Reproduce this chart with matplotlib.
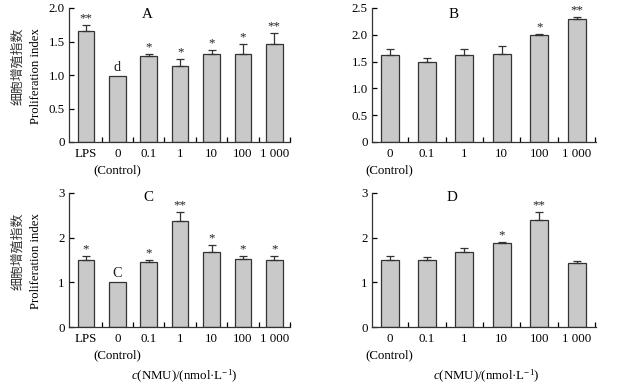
import matplotlib
matplotlib.use("Agg")
import matplotlib.pyplot as plt
import numpy as np

plt.rcParams['font.family'] = ['Liberation Serif', 'Noto Sans CJK SC']
plt.rcParams['mathtext.fontset'] = 'custom'
plt.rcParams['mathtext.rm'] = 'Liberation Serif'
plt.rcParams['mathtext.it'] = 'Liberation Serif:italic'

cats7 = ['LPS', '0', '0.1', '1', '10', '100', '1 000']
cats6 = ['0', '0.1', '1', '10', '100', '1 000']
control_note = '(Control)'

A_vals = [1.65, 0.99, 1.29, 1.14, 1.31, 1.31, 1.47]
A_err = [0.10, 0.0, 0.02, 0.10, 0.07, 0.15, 0.16]
A_sig = ['**', 'd', '*', '*', '*', '*', '**']

B_vals = [1.63, 1.49, 1.63, 1.65, 1.99, 2.29]
B_err = [0.10, 0.08, 0.11, 0.14, 0.03, 0.05]
B_sig = ['', '', '', '', '*', '**']

C_vals = [1.49, 1.01, 1.45, 2.38, 1.68, 1.53, 1.51]
C_err = [0.11, 0.0, 0.05, 0.19, 0.16, 0.07, 0.08]
C_sig = ['*', 'C', '*', '**', '*', '*', '*']

D_vals = [1.49, 1.49, 1.67, 1.87, 2.40, 1.44]
D_err = [0.10, 0.08, 0.10, 0.03, 0.17, 0.04]
D_sig = ['', '', '', '*', '**', '']

W, H = 617, 385
fig = plt.figure(figsize=(W / 100, H / 100), dpi=100)


def rect(l, r, t, b):
    return [l / W, 1 - b / H, (r - l) / W, (b - t) / H]


FS = 9.3
bar_color = '#c9c9c9'
edge = '#333333'


def panel(r, cats, ctrl_idx, vals, errs, sigs, ylim, yticks, yticklabels, xlim, width, letter, lpos):
    ax = fig.add_axes(r)
    x = np.arange(len(cats))
    ax.bar(x, vals, width=width, color=bar_color, edgecolor=edge, linewidth=0.9, zorder=2)
    for xi, v, e in zip(x, vals, errs):
        if e > 0:
            ax.errorbar([xi], [v], yerr=[[0], [e]], fmt='none', ecolor=edge,
                        elinewidth=0.9, capsize=3.2, capthick=0.9, zorder=3)
    span = ylim[1] - ylim[0]
    for xi, v, e, s in zip(x, vals, errs, sigs):
        if not s:
            continue
        if s.startswith('*'):
            ax.text(xi, v + e + 0.005 * span, s, ha='center', va='bottom', fontsize=FS, color='#222222')
        else:
            ax.text(xi, v + 0.015 * span, s, ha='center', va='bottom', fontsize=FS + 1, color='#222222')
    ax.set_xlim(*xlim)
    ax.set_ylim(*ylim)
    ax.set_yticks(yticks)
    ax.set_yticklabels(yticklabels, fontsize=FS)
    ax.set_xticks(x)
    ax.set_xticklabels(cats, fontsize=FS)
    ax.annotate(control_note, xy=(ctrl_idx, 0), xycoords=('data', 'axes fraction'),
                xytext=(0, -20.5), textcoords='offset points', ha='center', va='center',
                fontsize=FS)
    ax.set_xticks(np.arange(len(cats)) + 0.5, minor=True)
    ax.tick_params(axis='x', which='major', length=0, pad=4)
    ax.tick_params(axis='x', which='minor', direction='in', length=3.5, width=0.9)
    ax.tick_params(axis='y', direction='in', length=3.5, width=0.9, pad=3)
    for sp in ['top', 'right']:
        ax.spines[sp].set_visible(False)
    for sp in ['left', 'bottom']:
        ax.spines[sp].set_linewidth(0.9)
        ax.spines[sp].set_color(edge)
    ax.text(lpos[0], lpos[1], letter, transform=ax.transAxes, ha='center', va='center', fontsize=FS + 1.5)
    return ax


xl7 = (-0.54, 6.41)
xl6 = (-0.47, 5.52)

panel(rect(69, 290, 8, 142), cats7, 1, A_vals, A_err, A_sig, (0, 2.0),
      [0, 0.5, 1.0, 1.5, 2.0], ['0', '0.5', '1.0', '1.5', '2.0'], xl7, 0.53, 'A', (0.353, 0.955))
panel(rect(372, 596, 8, 142), cats6, 0, B_vals, B_err, B_sig, (0, 2.5),
      [0, 0.5, 1.0, 1.5, 2.0, 2.5], ['0', '0.5', '1.0', '1.5', '2.0', '2.5'], xl6, 0.48, 'B', (0.366, 0.955))
panel(rect(69, 290, 193, 327), cats7, 1, C_vals, C_err, C_sig, (0, 3),
      [0, 1, 2, 3], ['0', '1', '2', '3'], xl7, 0.53, 'C', (0.357, 0.97))
panel(rect(372, 596, 193, 327), cats6, 0, D_vals, D_err, D_sig, (0, 3),
      [0, 1, 2, 3], ['0', '1', '2', '3'], xl6, 0.48, 'D', (0.357, 0.97))

# y labels
for ytop in [28, 213]:
    fig.text(18 / W, 1 - ytop / H, '细胞增殖指数', rotation=90, ha='center', va='top',
             fontsize=9.3, color='#333333', family=['Noto Sans CJK SC'])
    fig.text(36 / W, 1 - ytop / H, 'Proliferation index', rotation=90, ha='center', va='top',
             fontsize=9.2)

xlab = r'$\mathit{c}$(NMU)/(nmol·L$^{-1}$)'
fig.text(184 / W, 1 - 376 / H, xlab, ha='center', va='center', fontsize=9.3)
fig.text(486 / W, 1 - 376 / H, xlab, ha='center', va='center', fontsize=9.3)

fig.savefig('out.png', dpi=100)
